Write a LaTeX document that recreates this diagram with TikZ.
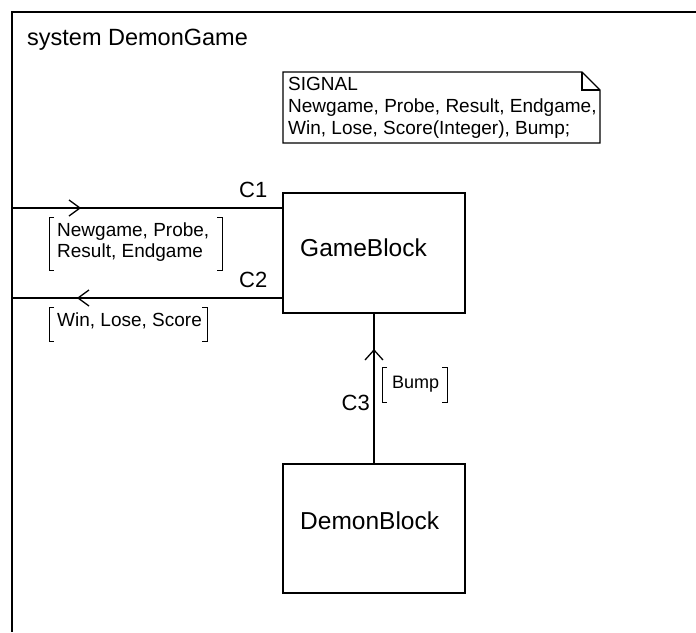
\documentclass[tikz,border=0pt]{standalone}
\usepackage{fontspec}
\setmainfont{Liberation Sans}
\begin{document}
\begin{tikzpicture}[x=1pt,y=-1pt,
  frame/.style={line width=1.5pt},
  block/.style={draw, line width=1.6pt, minimum width=182pt, inner sep=0pt},
  conn/.style={line width=1.5pt},
  chev/.style={line width=1.3pt},
  brk/.style={line width=1pt},
  lbl/.style={inner sep=0pt, font=\fontsize{19}{21}\selectfont, align=left},
  cname/.style={inner sep=0pt, font=\fontsize{22}{24}\selectfont},
  bname/.style={inner sep=0pt, font=\fontsize{24.5}{27}\selectfont}]
\useasboundingbox (0,0) rectangle (696,632);
% frame
\draw[frame] (696,12) -- (12,12) -- (12,632);
\node[inner sep=0pt, font=\fontsize{23.5}{26}\selectfont, anchor=base west] (title) at (27,45) {system DemonGame};
% signal text symbol
\draw[line width=1.4pt] (283,72) -- (582,72) -- (600,90) -- (600,143) -- (283,143) -- cycle;
\draw[line width=1.1pt] (582,72) -- (582,90) -- (600,90);
\node[lbl, anchor=north west, font=\fontsize{19}{22}\selectfont] (sig) at (288,77.5)
  {SIGNAL\\Newgame, Probe, Result, Endgame,\\Win, Lose, Score(Integer), Bump;};
% blocks
\node[block, minimum height=120pt] (game) at (374,253) {};
\node[bname, anchor=base west] (gametxt) at (300,256) {GameBlock};
\node[block, minimum height=129pt] (demon) at (374,528.5) {};
\node[bname, anchor=base west] (demontxt) at (300,529) {DemonBlock};
% channel C1
\coordinate (c1a) at (12,208);
\draw[conn] (c1a) -- (c1a -| game.west);
\draw[chev] (69,200) -- (80,208) -- (69,216);
\node[cname, anchor=base west] (c1) at (239,197) {C1};
\draw[brk] (54,217) -- (49,217) -- (49,270) -- (54,270);
\draw[brk] (217,217) -- (222,217) -- (222,270) -- (217,270);
\node[lbl, anchor=north west] (c1sig) at (57,223) {Newgame, Probe,\\Result, Endgame};
% channel C2
\coordinate (c2a) at (12,298);
\draw[conn] (c2a -| game.west) -- (c2a);
\draw[chev] (89,290) -- (78,298) -- (89,306);
\node[cname, anchor=base west] (c2) at (239,287) {C2};
\draw[brk] (54,307) -- (49,307) -- (49,341) -- (54,341);
\draw[brk] (202,307) -- (207,307) -- (207,341) -- (202,341);
\node[lbl, anchor=north west] (c2sig) at (57,313) {Win, Lose, Score};
% channel C3
\draw[conn] (demon.north) -- (game.south);
\draw[chev] (365,360) -- (374,350) -- (383,360);
\node[cname, anchor=base east] (c3) at (370,410) {C3};
\draw[brk] (387,367) -- (382,367) -- (382,402) -- (387,402);
\draw[brk] (442,367) -- (447,367) -- (447,402) -- (442,402);
\node[inner sep=0pt, font=\fontsize{18}{20}\selectfont, anchor=base west] (c3sig) at (392,388) {Bump};
\end{tikzpicture}
\end{document}
